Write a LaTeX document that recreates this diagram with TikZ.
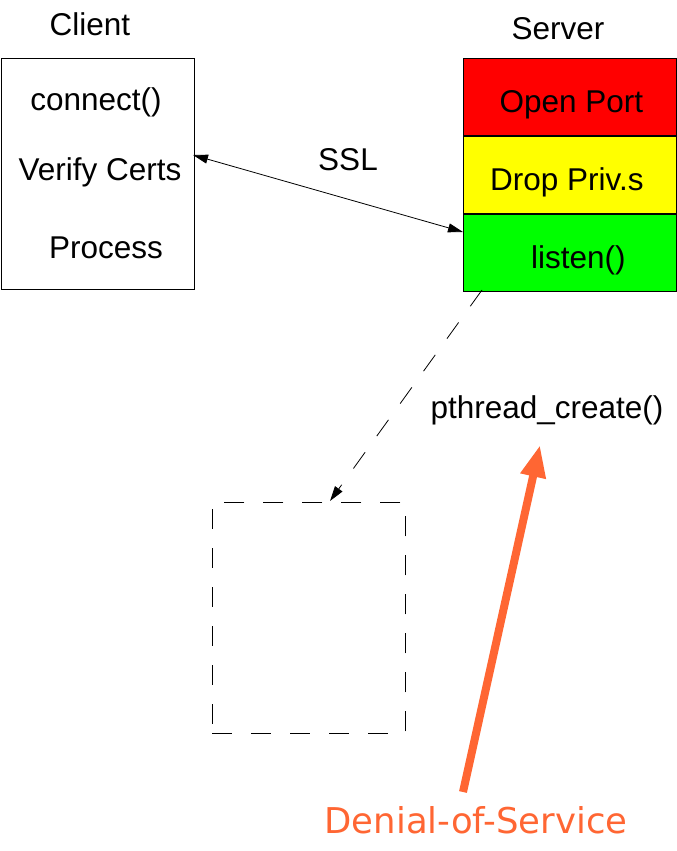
\documentclass[tikz,border=0pt]{standalone}
\usepackage{fontspec}
\setmainfont{Liberation Sans}
\newfontfamily\dosfont{DejaVu Sans}
\usetikzlibrary{arrows.meta}
\definecolor{portred}{HTML}{FF0000}
\definecolor{privyellow}{HTML}{FFFF00}
\definecolor{listengreen}{HTML}{00FF00}
\definecolor{dosorange}{HTML}{FF6633}
\newcommand\lowered[1]{\raisebox{-8pt}[\height][\depth]{#1}}
\tikzset{
  txt/.style={font=\fontsize{31.5}{36}\selectfont, inner sep=0pt},
  box/.style={draw, line width=0.9pt, anchor=north west, minimum width=193pt, minimum height=231pt},
  layer/.style={draw, line width=0.9pt, anchor=north west, minimum width=213pt, minimum height=77pt, txt},
}
\begin{document}
\begin{tikzpicture}[x=1pt, y=-1pt]
  \useasboundingbox (0,0) rectangle (677,851);
  % client
  \node[txt] (clientlbl) at (90,24) {Client};
  \node[box] (client) at (1,58) {};
  \node[txt] (connect) at (96,102) {connect()};
  \node[txt] (verify) at (100,172) {Verify Certs};
  \node[txt] (process) at (106,248) {Process};
  % server
  \node[txt] (serverlbl) at (558,29) {Server};
  \node[layer, fill=portred] (open) at (463,58) {\hspace*{3pt}\lowered{Open Port}};
  \node[layer, fill=privyellow, anchor=north] (drop) at (open.south) {\hspace*{-6pt}\lowered{Drop Priv.s}};
  \node[layer, fill=listengreen, anchor=north] (listen) at (drop.south) {\hspace*{17pt}\lowered{listen()}};
  % ssl
  \coordinate (sslc) at (193,155);
  \coordinate (ssls) at (463,232);
  \draw[line width=0.8pt, {Triangle[length=15pt,width=9pt]}-{Triangle[length=15pt,width=9pt]}] (sslc) -- (ssls);
  \node[txt] (ssl) at (348,160) {SSL};
  % thread
  \node[box, dash pattern=on 20pt off 19pt] (thread) at (212,502) {};
  \coordinate (spawn) at (482,290);
  \coordinate (threadtop) at (330,501);
  \draw[line width=0.8pt, dash pattern=on 20pt off 20pt, -{Triangle[length=15pt,width=9pt]}] (spawn) -- (threadtop);
  \node[txt] (pcreate) at (547,410) {pthread\_create()};
  % attack
  \node[font=\dosfont\fontsize{35.5}{40}\selectfont, text=dosorange, inner sep=0pt] (dos) at (476,820) {Denial-of-Service};
  \coordinate (dosbase) at (463,792);
  \coordinate (dostip) at (540,445);
  \draw[dosorange, line width=8pt, -{Triangle[length=32pt,width=24pt]}] (dosbase) -- (dostip);
\end{tikzpicture}
\end{document}
